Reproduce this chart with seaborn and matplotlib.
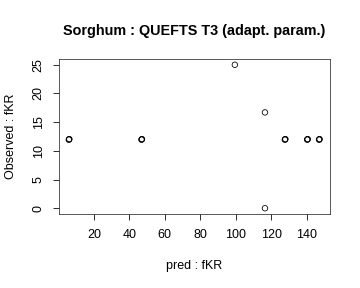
import matplotlib
matplotlib.use("Agg")
import matplotlib.pyplot as plt
import seaborn as sns
import pandas as pd

pred = [5.8, 6.0, 6.1, 46.8, 47.0, 47.1, 99.5, 116.5, 116.5,
        127.7, 127.9, 128.0, 140.3, 140.5, 140.6, 147.0, 147.2, 147.3]
observed = [11.95, 12.0, 12.05, 11.95, 12.0, 12.05, 25.0, 16.7, 0.0,
            11.95, 12.0, 12.05, 11.95, 12.0, 12.05, 11.95, 12.0, 12.05]

xticks = [20, 40, 60, 80, 100, 120, 140]
yticks = [0, 5, 10, 15, 20, 25]

df = pd.DataFrame({"pred": pred, "obs": observed})

sns.set_style("white")
plt.rcParams['font.family'] = ['Liberation Sans', 'DejaVu Sans']
plt.rcParams['text.color'] = 'black'
plt.rcParams['axes.labelcolor'] = 'black'
plt.rcParams['xtick.color'] = 'black'
plt.rcParams['ytick.color'] = 'black'

fig = plt.figure(figsize=(5, 4), dpi=72)
ax = fig.add_axes([0.163, 0.257, 0.7537, 0.538])
sns.scatterplot(data=df, x="pred", y="obs", ax=ax, s=30,
                facecolors="none", edgecolor="black", linewidth=0.8,
                marker="o")

ax.set_xlim(0.1, 153.2)
ax.set_ylim(-1, 26)
ax.set_xticks(xticks)
ax.set_yticks(yticks)
ax.set_xticklabels([str(t) for t in xticks], fontsize=12.5)
ax.set_yticklabels([str(t) for t in yticks], fontsize=12.5, rotation=90, va="center")
ax.tick_params(axis="both", direction="out", length=6, width=0.8,
               bottom=True, left=True, pad=9)
ax.tick_params(axis="y", pad=8)
for sp in ax.spines.values():
    sp.set_color("#333333")
    sp.set_linewidth(0.8)

ax.set_xlabel("pred : fKR", fontsize=12.5, labelpad=19)
ax.set_ylabel("Observed : fKR", fontsize=12.5, labelpad=16)
ax.set_title("Sorghum : QUEFTS T3 (adapt. param.)", fontsize=14.4,
             fontweight="bold", pad=24)

fig.savefig("out.png", dpi=72)
